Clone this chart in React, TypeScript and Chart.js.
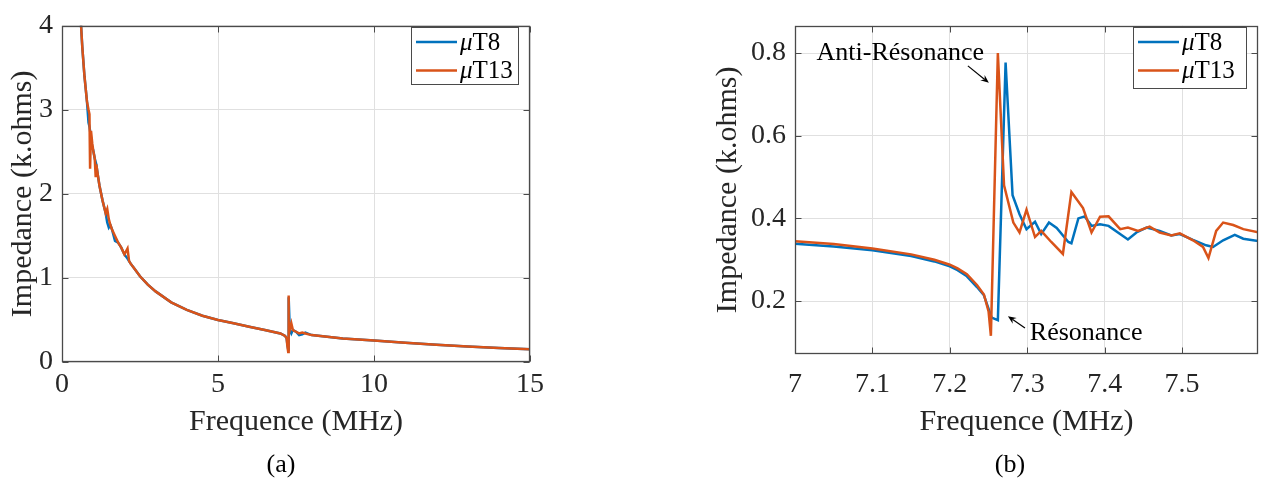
import React, { useEffect, useRef } from "react";
import { Chart, registerables } from "chart.js";

Chart.register(...registerables);

// ---------- DATA ----------
const seriesNames = ["T8", "T13"]; // drawn with an italic "μ" prefix

// (a) overview 0–15 MHz
const overviewFreq = [0.58, 0.65, 0.72, 0.8, 0.85, 0.88, 0.9, 0.93, 0.97, 1.0, 1.05, 1.08, 1.1, 1.15, 1.2, 1.3, 1.4, 1.45, 1.5, 1.55, 1.6, 1.7, 1.8, 1.9, 2.0, 2.1, 2.15, 2.2, 2.3, 2.5, 2.75, 3.0, 3.5, 4.0, 4.5, 5.0, 5.5, 6.0, 6.5, 7.0, 7.15, 7.2, 7.22, 7.25, 7.26, 7.27, 7.3, 7.35, 7.4, 7.5, 7.6, 7.7, 7.8, 8.0, 8.5, 9.0, 10, 11, 12, 13, 14, 15];
const overviewT8 = [4.2, 3.75, 3.4, 3.1, 2.85, 2.8, 2.75, 2.65, 2.55, 2.52, 2.42, 2.38, 2.35, 2.22, 2.1, 1.92, 1.77, 1.66, 1.6, 1.63, 1.58, 1.44, 1.42, 1.36, 1.28, 1.23, 1.2, 1.17, 1.12, 1.02, 0.92, 0.84, 0.71, 0.62, 0.55, 0.5, 0.46, 0.42, 0.38, 0.34, 0.31, 0.28, 0.22, 0.15, 0.5, 0.77, 0.38, 0.34, 0.38, 0.36, 0.32, 0.33, 0.35, 0.32, 0.3, 0.28, 0.255, 0.23, 0.205, 0.185, 0.168, 0.153];
const overviewT13 = [4.2, 3.75, 3.4, 3.1, 3.0, 2.95, 2.3, 2.75, 2.6, 2.52, 2.42, 2.2, 2.35, 2.22, 2.1, 1.92, 1.77, 1.82, 1.7, 1.63, 1.58, 1.5, 1.42, 1.36, 1.28, 1.35, 1.2, 1.17, 1.12, 1.02, 0.92, 0.84, 0.71, 0.62, 0.55, 0.5, 0.46, 0.42, 0.38, 0.34, 0.31, 0.28, 0.2, 0.12, 0.79, 0.48, 0.38, 0.46, 0.38, 0.36, 0.34, 0.35, 0.34, 0.32, 0.3, 0.28, 0.255, 0.23, 0.205, 0.185, 0.168, 0.153];
const overviewXTicks = [0, 5, 10, 15];
const overviewYTicks = [0, 1, 2, 3, 4];

// (b) zoom 7–7.6 MHz
const zoomFreqT8 = [7.0, 7.05, 7.1, 7.15, 7.18, 7.2, 7.21, 7.222, 7.235, 7.244, 7.254, 7.262, 7.272, 7.281, 7.29, 7.299, 7.31, 7.318, 7.328, 7.338, 7.353, 7.357, 7.366, 7.374, 7.383, 7.394, 7.405, 7.43, 7.441, 7.454, 7.471, 7.486, 7.497, 7.514, 7.531, 7.54, 7.553, 7.568, 7.579, 7.6];
const zoomT8 = [0.339, 0.332, 0.323, 0.309, 0.296, 0.284, 0.275, 0.26, 0.234, 0.214, 0.16, 0.154, 0.777, 0.456, 0.41, 0.374, 0.392, 0.362, 0.39, 0.377, 0.343, 0.34, 0.4, 0.405, 0.382, 0.386, 0.382, 0.349, 0.366, 0.378, 0.37, 0.359, 0.362, 0.348, 0.335, 0.331, 0.347, 0.36, 0.351, 0.345];
const zoomFreqT13 = [7.0, 7.05, 7.1, 7.15, 7.18, 7.2, 7.21, 7.222, 7.235, 7.244, 7.25, 7.253, 7.262, 7.27, 7.282, 7.29, 7.299, 7.31, 7.318, 7.331, 7.346, 7.357, 7.372, 7.383, 7.394, 7.405, 7.42, 7.43, 7.443, 7.458, 7.471, 7.486, 7.497, 7.514, 7.527, 7.534, 7.544, 7.553, 7.566, 7.579, 7.6];
const zoomT13 = [0.345, 0.338, 0.327, 0.313, 0.3, 0.288, 0.279, 0.265, 0.239, 0.216, 0.175, 0.116, 0.8, 0.48, 0.39, 0.366, 0.421, 0.355, 0.37, 0.343, 0.314, 0.464, 0.425, 0.366, 0.404, 0.405, 0.374, 0.378, 0.37, 0.38, 0.366, 0.359, 0.364, 0.347, 0.331, 0.304, 0.37, 0.39, 0.384, 0.374, 0.366];
const zoomXTicks = [7, 7.1, 7.2, 7.3, 7.4, 7.5];
const zoomYTicks = [0.2, 0.4, 0.6, 0.8];

// ---------- STYLE ----------
const BLUE = "#0072BD";
const ORANGE = "#D95319";
const SERIF = "'Liberation Serif', 'Times New Roman', serif";
const TEXT = "#262626";
const AXIS = "#4a4a4a";
const GRID = "#e0e0e0";

type Note = { text: string; x: number; y: number; from: [number, number]; to: [number, number] };
type DecorCfg = {
  legend: { left: number; top: number; width: number; height: number };
  notes: Note[];
  caption: { text: string; x: number; y: number };
};

function drawArrow(ctx: CanvasRenderingContext2D, x1: number, y1: number, x2: number, y2: number) {
  const ang = Math.atan2(y2 - y1, x2 - x1);
  const head = 9;
  ctx.beginPath();
  ctx.moveTo(x1, y1);
  ctx.lineTo(x2 - Math.cos(ang) * head * 0.6, y2 - Math.sin(ang) * head * 0.6);
  ctx.strokeStyle = "#000";
  ctx.lineWidth = 1.2;
  ctx.stroke();
  ctx.beginPath();
  ctx.moveTo(x2, y2);
  ctx.lineTo(x2 - head * Math.cos(ang - 0.4), y2 - head * Math.sin(ang - 0.4));
  ctx.lineTo(x2 - head * 0.6 * Math.cos(ang), y2 - head * 0.6 * Math.sin(ang));
  ctx.lineTo(x2 - head * Math.cos(ang + 0.4), y2 - head * Math.sin(ang + 0.4));
  ctx.closePath();
  ctx.fillStyle = "#000";
  ctx.fill();
}

function makeDecor(cfg: DecorCfg) {
  return {
    id: "matlabDecor",
    afterDraw(chart: any) {
      const { ctx, chartArea: a, scales } = chart;
      const xs = scales.x;
      const ys = scales.y;
      const L = Math.round(a.left) + 0.5;
      const R = Math.round(a.right) - 0.5;
      const T = Math.round(a.top) + 0.5;
      const B = Math.round(a.bottom) - 0.5;
      ctx.save();
      // inward ticks
      ctx.strokeStyle = AXIS;
      ctx.lineWidth = 1;
      const tl = 6;
      ctx.beginPath();
      xs.ticks.forEach((t: any) => {
        const px = Math.round(xs.getPixelForValue(t.value)) + 0.5;
        ctx.moveTo(px, B);
        ctx.lineTo(px, B - tl);
        ctx.moveTo(px, T);
        ctx.lineTo(px, T + tl);
      });
      ys.ticks.forEach((t: any) => {
        const py = Math.round(ys.getPixelForValue(t.value)) + 0.5;
        ctx.moveTo(L, py);
        ctx.lineTo(L + tl, py);
        ctx.moveTo(R, py);
        ctx.lineTo(R - tl, py);
      });
      ctx.stroke();
      // box
      ctx.lineWidth = 1.3;
      ctx.strokeRect(L, T, R - L, B - T);

      // annotations
      cfg.notes.forEach((n) => {
        ctx.font = `26px ${SERIF}`;
        ctx.fillStyle = "#000";
        ctx.textAlign = "center";
        ctx.textBaseline = "middle";
        ctx.fillText(n.text, xs.getPixelForValue(n.x), ys.getPixelForValue(n.y));
        drawArrow(
          ctx,
          xs.getPixelForValue(n.from[0]),
          ys.getPixelForValue(n.from[1]),
          xs.getPixelForValue(n.to[0]),
          ys.getPixelForValue(n.to[1])
        );
      });

      // legend
      const lg = cfg.legend;
      ctx.fillStyle = "#fff";
      ctx.fillRect(lg.left, lg.top, lg.width, lg.height);
      ctx.strokeStyle = AXIS;
      ctx.lineWidth = 1;
      ctx.strokeRect(lg.left + 0.5, lg.top + 0.5, lg.width, lg.height);
      chart.data.datasets.forEach((ds: any, i: number) => {
        const cy = lg.top + 15 + i * 28.5;
        ctx.beginPath();
        ctx.moveTo(lg.left + 5, cy);
        ctx.lineTo(lg.left + 46, cy);
        ctx.strokeStyle = ds.borderColor;
        ctx.lineWidth = 2.5;
        ctx.stroke();
        ctx.fillStyle = "#000";
        ctx.textAlign = "left";
        ctx.textBaseline = "middle";
        ctx.font = `italic 25px ${SERIF}`;
        const tx = lg.left + 49;
        ctx.fillText("\u03bc", tx, cy + 1);
        const w = ctx.measureText("\u03bc").width;
        ctx.font = `25px ${SERIF}`;
        ctx.fillText(ds.label, tx + w, cy + 1);
      });

      // caption
      ctx.font = `26px ${SERIF}`;
      ctx.fillStyle = "#000";
      ctx.textAlign = "center";
      ctx.textBaseline = "middle";
      ctx.fillText(cfg.caption.text, cfg.caption.x, cfg.caption.y);
      ctx.restore();
    },
  };
}

function buildConfig(opts: {
  t8: { x: number; y: number }[];
  t13: { x: number; y: number }[];
  xMin: number;
  xMax: number;
  yMin: number;
  yMax: number;
  xTicks: number[];
  yTicks: number[];
  padding: { left: number; top: number; right: number; bottom: number };
  yWidth: number;
  xHeight: number;
  xLabelPad: number;
  yTitlePad: number;
  decor: DecorCfg;
}) {
  const tickFont = { family: SERIF, size: 28 };
  const titleFont = { family: SERIF, size: 30 };
  return {
    type: "line" as const,
    data: {
      datasets: [
        { label: seriesNames[0], data: opts.t8, borderColor: BLUE, backgroundColor: BLUE, order: 2 },
        { label: seriesNames[1], data: opts.t13, borderColor: ORANGE, backgroundColor: ORANGE, order: 1 },
      ],
    },
    options: {
      animation: false as const,
      responsive: false,
      devicePixelRatio: 1,
      layout: { padding: opts.padding },
      plugins: { legend: { display: false }, tooltip: { enabled: false } },
      elements: { point: { radius: 0 }, line: { borderWidth: 2.5, tension: 0 } },
      scales: {
        x: {
          type: "linear" as const,
          min: opts.xMin,
          max: opts.xMax,
          afterBuildTicks: (s: any) => {
            s.ticks = opts.xTicks.map((v) => ({ value: v }));
          },
          afterFit: (s: any) => {
            s.height = opts.xHeight;
          },
          ticks: {
            autoSkip: false,
            maxRotation: 0,
            padding: opts.xLabelPad,
            color: TEXT,
            font: tickFont,
            callback: (v: any) => String(v),
          },
          grid: { color: GRID, drawTicks: false, lineWidth: 1 },
          border: { display: false },
          title: {
            display: true,
            text: "Frequence (MHz)",
            color: TEXT,
            font: titleFont,
            padding: { top: 0, bottom: 5 },
          },
        },
        y: {
          type: "linear" as const,
          min: opts.yMin,
          max: opts.yMax,
          afterBuildTicks: (s: any) => {
            s.ticks = opts.yTicks.map((v) => ({ value: v }));
          },
          afterFit: (s: any) => {
            s.width = opts.yWidth;
          },
          ticks: {
            autoSkip: false,
            padding: 9,
            color: TEXT,
            font: tickFont,
            callback: (v: any) => String(v),
          },
          grid: { color: GRID, drawTicks: false, lineWidth: 1 },
          border: { display: false },
          title: {
            display: true,
            text: "Impedance (k.ohms)",
            color: TEXT,
            font: titleFont,
            padding: { top: opts.yTitlePad, bottom: 0 },
          },
        },
      },
    },
    plugins: [makeDecor(opts.decor)],
  };
}

function Panel({ left, width, height, build }: { left: number; width: number; height: number; build: () => any }) {
  const ref = useRef<HTMLCanvasElement>(null);
  useEffect(() => {
    const chart = new Chart(ref.current as HTMLCanvasElement, build());
    return () => chart.destroy();
  }, []);
  return (
    <canvas
      ref={ref}
      width={width}
      height={height}
      style={{ position: "absolute", left, top: 0, width, height }}
    />
  );
}

const buildOverview = () =>
  buildConfig({
    t8: overviewFreq.map((f, i) => ({ x: f, y: overviewT8[i] })),
    t13: overviewFreq.map((f, i) => ({ x: f, y: overviewT13[i] })),
    xMin: 0,
    xMax: 15,
    yMin: 0,
    yMax: 4,
    xTicks: overviewXTicks,
    yTicks: overviewYTicks,
    padding: { left: 0, top: 15, right: 30, bottom: 41 },
    yWidth: 62,
    xHeight: 83,
    xLabelPad: 6,
    yTitlePad: 5,
    decor: {
      legend: { left: 411, top: 27, width: 107, height: 57 },
      notes: [],
      caption: { text: "(a)", x: 281, y: 465 },
    },
  });

const buildZoom = () =>
  buildConfig({
    t8: zoomFreqT8.map((f, i) => ({ x: f, y: zoomT8[i] })),
    t13: zoomFreqT13.map((f, i) => ({ x: f, y: zoomT13[i] })),
    xMin: 7,
    xMax: 7.598,
    yMin: 0.072,
    yMax: 0.866,
    xTicks: zoomXTicks,
    yTicks: zoomYTicks,
    padding: { left: 0, top: 15, right: 5, bottom: 41 },
    yWidth: 95,
    xHeight: 91,
    xLabelPad: 14,
    yTitlePad: 10,
    decor: {
      legend: { left: 433, top: 27, width: 113, height: 61 },
      notes: [
        { text: "Anti-R\u00e9sonance", x: 7.136, y: 0.8, from: [7.2233, 0.769], to: [7.2504, 0.728] },
        { text: "R\u00e9sonance", x: 7.376, y: 0.1234, from: [7.297, 0.135], to: [7.275, 0.1636] },
      ],
      caption: { text: "(b)", x: 310, y: 465 },
    },
  });

export default function App() {
  return (
    <div style={{ position: "absolute", left: 0, top: 0, width: 1263, height: 486, background: "#fff" }}>
      <Panel left={0} width={560} height={486} build={buildOverview} />
      <Panel left={700} width={563} height={486} build={buildZoom} />
    </div>
  );
}
